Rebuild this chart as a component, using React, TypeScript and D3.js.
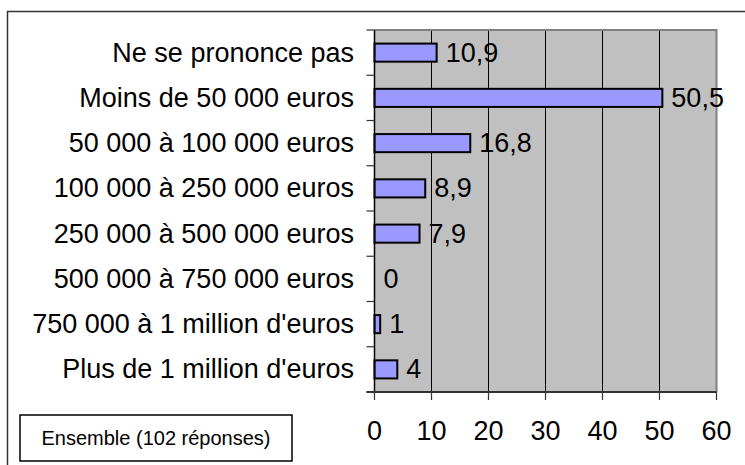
import React from "react";
import * as d3 from "d3";

const categories = [
  "Ne se prononce pas",
  "Moins de 50 000 euros",
  "50 000 à 100 000 euros",
  "100 000 à 250 000 euros",
  "250 000 à 500 000 euros",
  "500 000 à 750 000 euros",
  "750 000 à 1 million d'euros",
  "Plus de 1 million d'euros",
];
const values = [10.9, 50.5, 16.8, 8.9, 7.9, 0, 1, 4];
const xTicks = [0, 10, 20, 30, 40, 50, 60];
const legendText = "Ensemble (102 réponses)";

const W = 745;
const H = 465;
const FONT = "'Liberation Sans', Arial, sans-serif";
const FS = 27;

export default function App() {
  const plot = { left: 374.5, right: 716.5, top: 30, bottom: 392 };
  const x = d3.scaleLinear().domain([0, 60]).range([plot.left, plot.right]);
  const y = d3
    .scaleBand<string>()
    .domain(categories)
    .range([plot.top, plot.bottom])
    .paddingInner(0.6)
    .paddingOuter(0.3);
  const step = y.step();
  const fmt = (v: number) => String(v).replace(".", ",");

  return (
    <div style={{ position: "absolute", left: 0, top: 0 }}>
      <svg width={W} height={H} style={{ display: "block", background: "#fff" }}>
        {/* outer frame (cropped) */}
        <path d={`M7.5,${H} V11.5 H${W}`} fill="none" stroke="#333" strokeWidth={1.5} />

        {/* plot background */}
        <rect
          x={plot.left}
          y={plot.top}
          width={plot.right - plot.left}
          height={plot.bottom - plot.top}
          fill="#C0C0C0"
        />
        {/* gridlines */}
        {xTicks.slice(1, -1).map((t) => (
          <line key={"g" + t} x1={x(t)} x2={x(t)} y1={plot.top} y2={plot.bottom} stroke="#000" strokeWidth={1} />
        ))}
        {/* top & right border gray */}
        <path
          d={`M${plot.left},${plot.top} H${plot.right} V${plot.bottom}`}
          fill="none"
          stroke="#808080"
          strokeWidth={2}
        />

        {/* bars */}
        {categories.map((c, i) => (
          <g key={c}>
            {values[i] > 0 && (
              <rect
                x={x(0)}
                y={y(c)}
                width={x(values[i]) - x(0)}
                height={y.bandwidth()}
                fill="#9999FF"
                stroke="#000"
                strokeWidth={2}
              />
            )}
            <text
              x={x(values[i]) + 9}
              y={(y(c) as number) + y.bandwidth() / 2}
              dominantBaseline="central"
              fontFamily={FONT}
              fontSize={FS}
              fill="#000"
            >
              {fmt(values[i])}
            </text>
            <text
              x={354}
              y={(y(c) as number) + y.bandwidth() / 2}
              dominantBaseline="central"
              textAnchor="end"
              fontFamily={FONT}
              fontSize={FS}
              fill="#000"
            >
              {c}
            </text>
          </g>
        ))}

        {/* left axis */}
        <line x1={plot.left} x2={plot.left} y1={plot.top} y2={plot.bottom} stroke="#000" strokeWidth={1.5} />
        {d3.range(categories.length + 1).map((i) => (
          <line
            key={"yt" + i}
            x1={366.5}
            x2={plot.left}
            y1={plot.top + i * step}
            y2={plot.top + i * step}
            stroke="#333"
            strokeWidth={1.2}
          />
        ))}

        {/* bottom axis */}
        <line x1={366.5} x2={plot.right} y1={plot.bottom} y2={plot.bottom} stroke="#333" strokeWidth={2} />
        {xTicks.map((t) => (
          <g key={"xt" + t}>
            <line x1={x(t)} x2={x(t)} y1={plot.bottom} y2={plot.bottom + 8} stroke="#333" strokeWidth={1.2} />
            <text
              x={x(t)}
              y={431}
              textAnchor="middle"
              dominantBaseline="central"
              fontFamily={FONT}
              fontSize={FS}
              fill="#000"
            >
              {t}
            </text>
          </g>
        ))}

        {/* legend box */}
        <rect x={20} y={415} width={272} height={46} fill="#fff" stroke="#000" strokeWidth={1.5} />
        <text
          x={156}
          y={438}
          textAnchor="middle"
          dominantBaseline="central"
          fontFamily={FONT}
          fontSize={20}
          fill="#000"
        >
          {legendText}
        </text>
      </svg>
    </div>
  );
}
